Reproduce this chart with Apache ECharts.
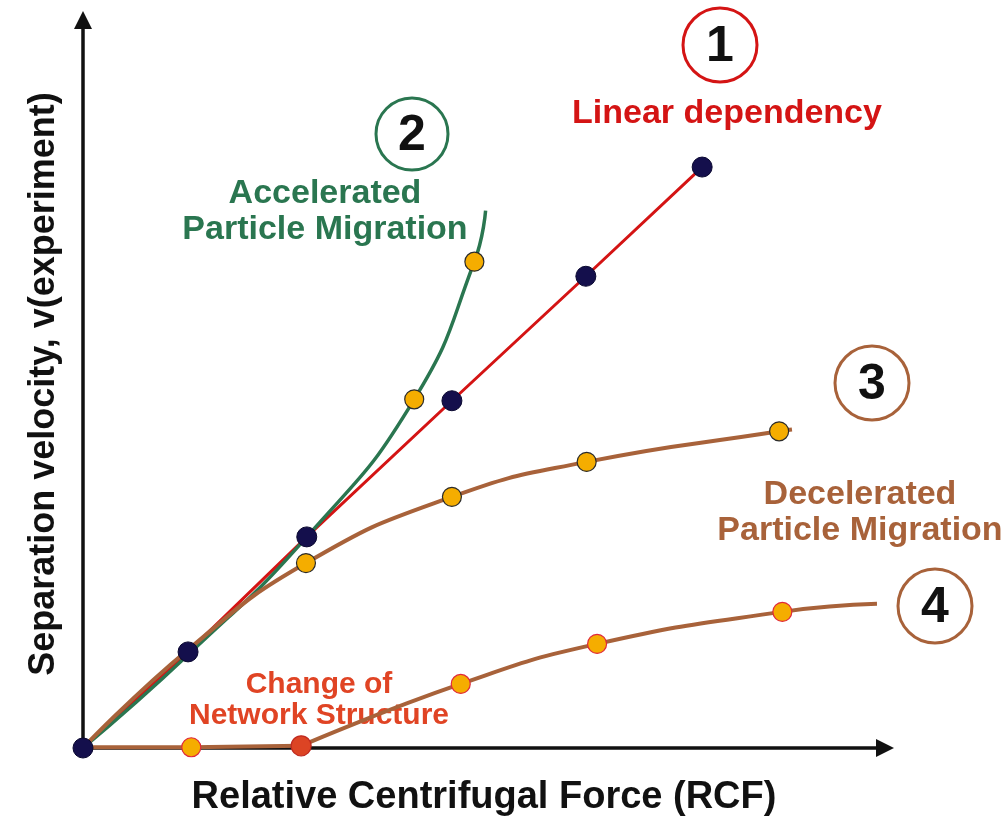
<!DOCTYPE html>
<html>
<head>
<meta charset="utf-8">
<script src="https://cdn.jsdelivr.net/npm/echarts@6/dist/echarts.min.js"></script>
<style>
html, body { margin: 0; padding: 0; background: #fff; }
#demo { width: 1007px; height: 818px; }
</style>
</head>
<body>
<div id="demo"></div>
<script>
// relative units, 0..100 on both axes
var linearLine = [[0, 0], [13.1, 13.2], [27.9, 29.0], [46.0, 47.7], [62.7, 64.8], [77.2, 79.8]];
var linearPts = [[0, 0], [13.1, 13.2], [27.9, 29.0], [46.0, 47.7], [62.7, 64.8], [77.2, 79.8]];

var accelLine = [[0, 0], [13.1, 12.8], [27.9, 29.0], [41.3, 47.9], [48.8, 66.8], [50.2, 73.8]];
var accelPts = [[41.3, 47.9], [48.8, 66.8]];

var decelLine = [[0, 0], [13.1, 13.5], [27.8, 25.4], [46.0, 34.5], [62.8, 39.3], [86.8, 43.5], [88.4, 43.75]];
var decelPts = [[27.8, 25.4], [46.0, 34.5], [62.8, 39.3], [86.8, 43.5]];

var networkFlat = [[0, 0.1], [13.5, 0.1], [27.2, 0.3]];
var networkCurve = [[27.2, 0.3], [47.1, 8.8], [64.1, 14.3], [87.2, 18.7], [99.0, 19.8]];
var networkPts = [[13.5, 0.1], [47.1, 8.8], [64.1, 14.3], [87.2, 18.7]];
var changePt = [[27.2, 0.3]];

var myChart = echarts.init(document.getElementById('demo'));

var font = 'Liberation Sans';
var brown = '#a8623a';

option = {
    animation: false,
    backgroundColor: '#fff',
    grid: { left: 83, right: 122, top: 20, bottom: 70, containLabel: false, outerBoundsMode: 'none' },
    xAxis: {
        type: 'value',
        min: 0,
        max: 100,
        name: 'Relative Centrifugal Force (RCF)',
        nameLocation: 'middle',
        nameGap: 31,
        nameTextStyle: { fontSize: 38, fontWeight: 'bold', color: '#111', fontFamily: font },
        axisLine: { lineStyle: { color: '#111', width: 3.5 }, symbol: ['none', 'triangle'], symbolSize: [18, 18] },
        axisTick: { show: false },
        axisLabel: { show: false },
        splitLine: { show: false }
    },
    yAxis: {
        type: 'value',
        min: 0,
        max: 100,
        name: 'Separation velocity, v(experiment)',
        nameLocation: 'middle',
        nameGap: 21,
        nameRotate: 90,
        nameTextStyle: { fontSize: 36, fontWeight: 'bold', color: '#111', fontFamily: font },
        axisLine: { lineStyle: { color: '#111', width: 3.5 }, symbol: ['none', 'triangle'], symbolSize: [18, 18] },
        axisTick: { show: false },
        axisLabel: { show: false },
        splitLine: { show: false }
    },
    series: [
        {
            name: 'linear',
            type: 'line',
            data: linearLine,
            showSymbol: false,
            lineStyle: { color: '#d41414', width: 3 },
            z: 2
        },
        {
            name: 'accelerated',
            type: 'line',
            data: accelLine,
            smooth: 0.5,
            showSymbol: false,
            lineStyle: { color: '#2a7650', width: 3.5 },
            z: 3
        },
        {
            name: 'decelerated',
            type: 'line',
            data: decelLine,
            smooth: 0.5,
            showSymbol: false,
            lineStyle: { color: brown, width: 4 },
            z: 4
        },
        {
            name: 'network flat',
            type: 'line',
            data: networkFlat,
            showSymbol: false,
            lineStyle: { color: brown, width: 4 },
            z: 4
        },
        {
            name: 'network',
            type: 'line',
            data: networkCurve,
            smooth: 0.5,
            showSymbol: false,
            lineStyle: { color: brown, width: 4 },
            z: 4
        },
        {
            type: 'scatter',
            data: accelPts.concat(decelPts),
            symbolSize: 19,
            itemStyle: { color: '#f5ad00', borderColor: '#2a2a2a', borderWidth: 1.2, opacity: 1 },
            z: 6
        },
        {
            type: 'scatter',
            data: networkPts,
            symbolSize: 19,
            itemStyle: { color: '#f5ad00', borderColor: '#e0283a', borderWidth: 1.2, opacity: 1 },
            z: 6
        },
        {
            type: 'scatter',
            data: changePt,
            symbolSize: 20,
            itemStyle: { color: '#dc4424', borderColor: '#c02a20', borderWidth: 1.2, opacity: 1 },
            z: 6
        },
        {
            type: 'scatter',
            data: linearPts,
            symbolSize: 20,
            itemStyle: { color: '#140f4c', borderColor: '#0a0830', borderWidth: 1, opacity: 1 },
            z: 7
        }
    ],
    graphic: [
        // numbered circles
        { type: 'circle', shape: { cx: 720, cy: 45, r: 37 }, style: { fill: '#fff', stroke: '#d41414', lineWidth: 3 } },
        { type: 'text', x: 720, y: 47, style: { text: '1', fontSize: 50, fontWeight: 'bold', fontFamily: font, fill: '#111', align: 'center', verticalAlign: 'middle' } },
        { type: 'circle', shape: { cx: 412, cy: 134, r: 36 }, style: { fill: '#fff', stroke: '#2a7650', lineWidth: 3 } },
        { type: 'text', x: 412, y: 136, style: { text: '2', fontSize: 50, fontWeight: 'bold', fontFamily: font, fill: '#111', align: 'center', verticalAlign: 'middle' } },
        { type: 'circle', shape: { cx: 872, cy: 383, r: 37 }, style: { fill: '#fff', stroke: brown, lineWidth: 3 } },
        { type: 'text', x: 872, y: 385, style: { text: '3', fontSize: 50, fontWeight: 'bold', fontFamily: font, fill: '#111', align: 'center', verticalAlign: 'middle' } },
        { type: 'circle', shape: { cx: 935, cy: 606, r: 37 }, style: { fill: '#fff', stroke: brown, lineWidth: 3 } },
        { type: 'text', x: 935, y: 608, style: { text: '4', fontSize: 50, fontWeight: 'bold', fontFamily: font, fill: '#111', align: 'center', verticalAlign: 'middle' } },
        // annotations
        { type: 'text', x: 727, y: 114, style: { text: 'Linear dependency', fontSize: 34, fontWeight: 'bold', fontFamily: font, fill: '#d41414', align: 'center', verticalAlign: 'middle' } },
        { type: 'text', x: 325, y: 212, style: { text: 'Accelerated\nParticle Migration', fontSize: 34, lineHeight: 36, fontWeight: 'bold', fontFamily: font, fill: '#2a7650', align: 'center', verticalAlign: 'middle' } },
        { type: 'text', x: 860, y: 513, style: { text: 'Decelerated\nParticle Migration', fontSize: 34, lineHeight: 36, fontWeight: 'bold', fontFamily: font, fill: brown, align: 'center', verticalAlign: 'middle' } },
        { type: 'text', x: 319, y: 700, style: { text: 'Change of\nNetwork Structure', fontSize: 30, lineHeight: 31, fontWeight: 'bold', fontFamily: font, fill: '#e04424', align: 'center', verticalAlign: 'middle' } }
    ]
};

myChart.setOption(option);
</script>
</body>
</html>
